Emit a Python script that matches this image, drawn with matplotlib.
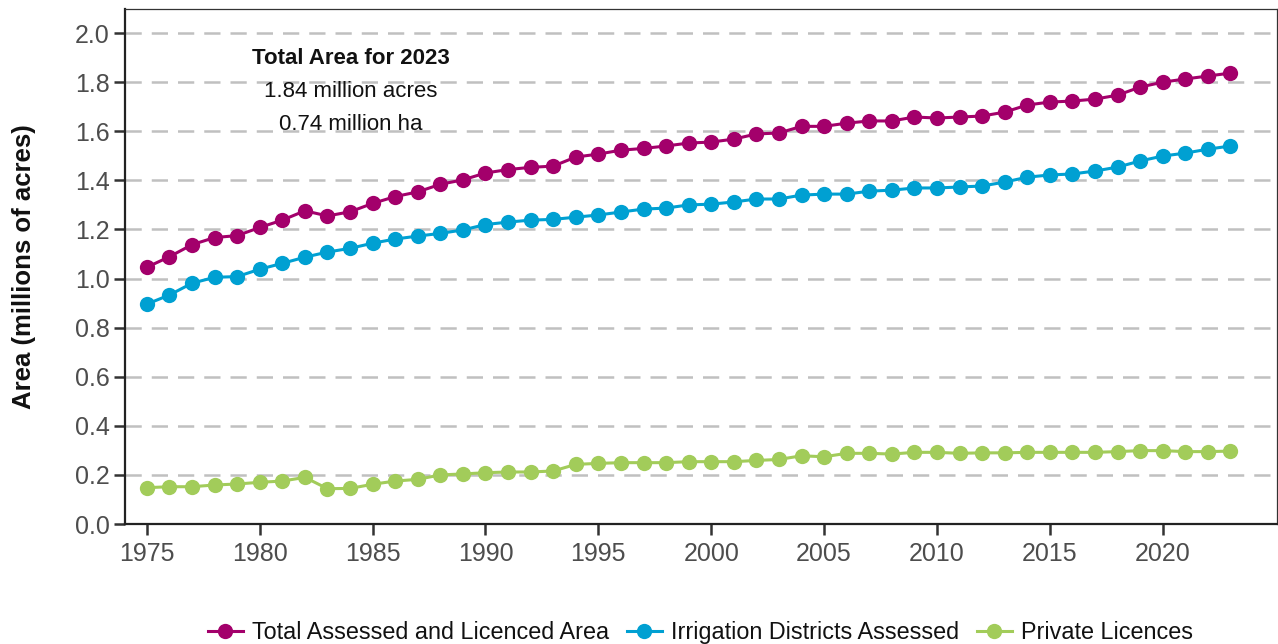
import matplotlib
matplotlib.use("Agg")
import matplotlib.pyplot as plt

plt.rcParams['font.family'] = ['Liberation Sans', 'DejaVu Sans']

years = list(range(1975, 2024))

total = [1.046, 1.089, 1.138, 1.167, 1.175, 1.208, 1.238, 1.276, 1.255, 1.272,
         1.306, 1.334, 1.353, 1.384, 1.402, 1.430, 1.444, 1.453, 1.458, 1.495,
         1.507, 1.523, 1.530, 1.540, 1.552, 1.556, 1.568, 1.589, 1.593, 1.620,
         1.620, 1.633, 1.642, 1.642, 1.658, 1.654, 1.658, 1.662, 1.678, 1.707,
         1.719, 1.723, 1.731, 1.747, 1.780, 1.800, 1.813, 1.825, 1.837]

irrigation = [0.896, 0.933, 0.981, 1.005, 1.008, 1.038, 1.062, 1.087, 1.108, 1.123,
              1.144, 1.161, 1.173, 1.184, 1.198, 1.220, 1.230, 1.238, 1.241, 1.250,
              1.259, 1.271, 1.283, 1.287, 1.300, 1.303, 1.312, 1.324, 1.324, 1.340,
              1.344, 1.344, 1.356, 1.360, 1.369, 1.369, 1.373, 1.377, 1.393, 1.413,
              1.422, 1.426, 1.438, 1.454, 1.479, 1.499, 1.511, 1.527, 1.540]

private = [0.148, 0.152, 0.152, 0.159, 0.163, 0.170, 0.175, 0.190, 0.144, 0.145,
           0.162, 0.175, 0.182, 0.200, 0.204, 0.209, 0.212, 0.212, 0.216, 0.243,
           0.247, 0.250, 0.250, 0.250, 0.254, 0.254, 0.254, 0.259, 0.263, 0.278,
           0.274, 0.288, 0.288, 0.285, 0.292, 0.292, 0.288, 0.290, 0.290, 0.292,
           0.292, 0.292, 0.292, 0.295, 0.299, 0.299, 0.295, 0.295, 0.297]

series_names = ["Total Assessed and Licenced Area", "Irrigation Districts Assessed", "Private Licences"]
colors = ["#a3006b", "#00a0d2", "#a2cc5a"]

annot_lines = ["Total Area for 2023", "1.84 million acres", "0.74 million ha"]

fig = plt.figure(figsize=(12.78, 6.44), dpi=100)
ax = fig.add_axes([0.0978, 0.1863, 0.9012, 0.7997])

for vals, name, c in zip([total, irrigation, private], series_names, colors):
    ax.plot(years, vals, color=c, lw=2.2, marker='o', ms=11, label=name,
            markeredgewidth=0, zorder=3)

ax.set_xlim(1974.03, 2025.05)
ax.set_ylim(0, 2.098)
ax.set_xticks(list(range(1975, 2021, 5)))
ax.set_yticks([i / 10 for i in range(0, 21, 2)])
ax.set_yticklabels([f"{i/10:.1f}" for i in range(0, 21, 2)])

ax.grid(axis='y', color='#c0c0c0', linestyle=(0, (6.5, 4)), lw=1.8, zorder=0)
ax.set_axisbelow(True)

for side in ['left', 'bottom']:
    ax.spines[side].set_color('#222222')
    ax.spines[side].set_linewidth(1.6)
for side in ['top', 'right']:
    ax.spines[side].set_color('#333333')
    ax.spines[side].set_linewidth(0.9)

ax.tick_params(axis='both', direction='out', length=8, width=1.8, color='#333333',
               labelsize=18, labelcolor='#4d4d4d')
ax.tick_params(axis='x', pad=5)
ax.tick_params(axis='y', pad=3)

ax.set_ylabel("Area (millions of acres)", fontsize=18.5, fontweight='bold',
              color='#111111', labelpad=28)

ax.text(1984.05, 1.898, annot_lines[0], ha='center', va='center', fontsize=16,
        fontweight='bold', color='#111111')
ax.text(1984.05, 1.76, annot_lines[1], ha='center', va='center', fontsize=16,
        color='#111111')
ax.text(1984.05, 1.629, annot_lines[2], ha='center', va='center', fontsize=16,
        color='#111111')

fig.legend(loc='center', bbox_to_anchor=(0.548, 0.018), ncol=3, frameon=False,
           fontsize=16.8, handlelength=1.5, handletextpad=0.4, columnspacing=0.75,
           labelcolor='#111111')

fig.savefig("out.png", dpi=100)
